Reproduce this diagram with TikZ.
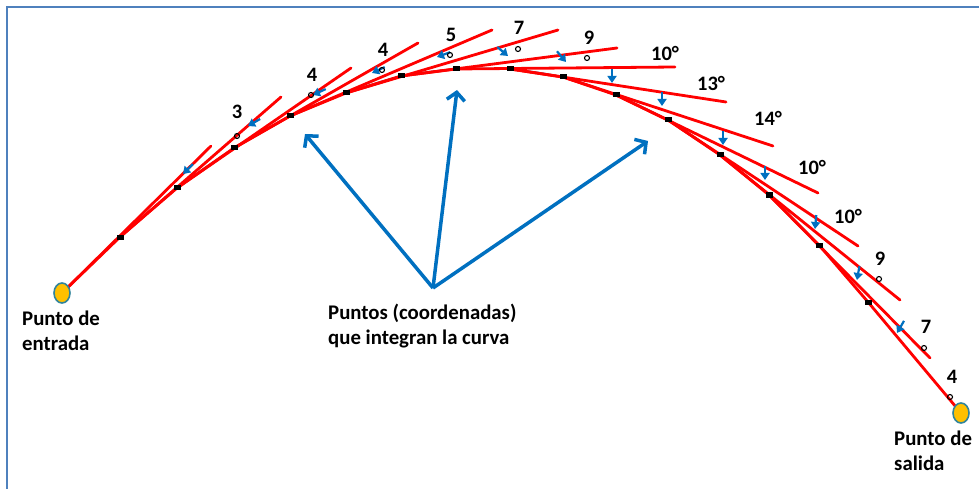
\documentclass[tikz,border=0pt]{standalone}
\usepackage{fontspec}
\setmainfont{Carlito}
\usetikzlibrary{arrows.meta,shapes.geometric}
\definecolor{cred}{RGB}{255,0,0}
\definecolor{cblue}{RGB}{0,112,192}
\definecolor{cframe}{RGB}{79,129,189}
\definecolor{cgold}{RGB}{255,192,0}
\definecolor{cteal}{RGB}{49,132,155}
\begin{document}
\begin{tikzpicture}[x=1pt,y=-1pt,
  redline/.style={cred,line width=2.8pt,line cap=round},
  sqmark/.style={rectangle,fill=black,draw=none,inner sep=0pt,minimum width=7pt,minimum height=5pt},
  degmark/.style={circle,draw=black,line width=1.1pt,inner sep=0pt,minimum size=5pt},
  lbl/.style={font=\bfseries\fontsize{20.5}{25}\selectfont,inner sep=0pt},
  txt/.style={font=\bfseries\fontsize{20.8}{25}\selectfont,inner sep=0pt,align=left,anchor=north west},
  dmark/.style={cblue,line width=2.2pt,-{Triangle[length=7pt,width=9pt]}},
  pointer/.style={cblue,line width=3.5pt,-{Straight Barb[length=8pt,width=18pt]}},
  endpt/.style={ellipse,fill=cgold,draw=cteal,line width=1.6pt,minimum width=16pt,minimum height=20pt,inner sep=0pt}]
\useasboundingbox (0,0) rectangle (979,489);
% frame
\draw[cframe,line width=2.5pt] (7,495) -- (7,7) -- (985,7);
% curve points
\coordinate (P0) at (62,293);
\coordinate (P1) at (120,237);
\coordinate (P2) at (177,188);
\coordinate (P3) at (234,148);
\coordinate (P4) at (290,116);
\coordinate (P5) at (346,93);
\coordinate (P6) at (401,76);
\coordinate (P7) at (456,69);
\coordinate (P8) at (510,69);
\coordinate (P9) at (563,77);
\coordinate (P10) at (616,95);
\coordinate (P11) at (668,120);
\coordinate (P12) at (720,155);
\coordinate (P13) at (769,195);
\coordinate (P14) at (819,245);
\coordinate (P15) at (868,302);
\coordinate (P16) at (961,413);
% tangent ends
\coordinate (E0) at (211,146);
\coordinate (E1) at (281,97);
\coordinate (E2) at (351,68);
\coordinate (E3) at (418,43);
\coordinate (E4) at (492,30);
\coordinate (E5) at (558,30);
\coordinate (E6) at (617,48);
\coordinate (E7) at (675,67);
\coordinate (E8) at (726,102);
\coordinate (E9) at (773,146);
\coordinate (E10) at (818,193);
\coordinate (E11) at (858,246);
\coordinate (E12) at (900,300);
\coordinate (E13) at (930,358);
% underlying curve
\draw[cblue!70,line width=1.2pt] plot[smooth] coordinates {(62,293) (120,237) (177,188) (234,148) (290,116) (346,93) (401,76) (456,69) (510,69) (563,77) (616,95) (668,120) (720,155) (769,195) (819,245) (868,302) (961,413)};
% tangent lines
\foreach \i in {0,...,13} { \draw[redline] (P\i) -- (E\i); }
% chords
\foreach \i [evaluate=\i as \j using int(\i+1)] in {0,...,15} { \draw[redline] (P\i) -- (P\j); }
% point markers
\foreach \i in {1,...,15} { \node[sqmark] (S\i) at (P\i) {}; }
% deflection marks
\foreach \k/\x/\y/\a in {1/183/174/135, 2/248/126/150, 3/313/95/155, 4/372/73/155, 5/437/57/160, 6/508/56/40, 7/566/62/50, 8/612/83/90, 9/662/106/90, 10/723/145/90, 11/765/180/90, 12/815/229/95, 13/857/280/100, 14/897/333/120}
  { \coordinate (D\k) at (\x,\y); \draw[dmark] ([shift={(\a+180:14)}]D\k) -- (D\k); }
% angle labels
\node[lbl] (L3) at (237,112) {3};   \node[degmark] (C3) at (237,136) {};
\node[lbl] (L4a) at (312,75) {4};   \node[degmark] (C4a) at (311,95) {};
\node[lbl] (L4b) at (383,50) {4};   \node[degmark] (C4b) at (382,70) {};
\node[lbl] (L5) at (451,35) {5};    \node[degmark] (C5) at (450,55) {};
\node[lbl] (L7a) at (519,28) {7};   \node[degmark] (C7a) at (518,49) {};
\node[lbl] (L9a) at (589,38) {9};   \node[degmark] (C9a) at (587,58) {};
\node[lbl] (L10a) at (665,53) {10°};
\node[lbl] (L13) at (711,83) {13°};
\node[lbl] (L14) at (768,118) {14°};
\node[lbl] (L10b) at (812,167) {10°};
\node[lbl] (L10c) at (848,216) {10°};
\node[lbl] (L9b) at (880,259) {9};  \node[degmark] (C9b) at (879,279) {};
\node[lbl] (L7b) at (926,327) {7};  \node[degmark] (C7b) at (924,348) {};
\node[lbl] (L4c) at (952,377) {4};  \node[degmark] (C4c) at (950,397) {};
% entry / exit
\node[endpt] (entry) at (P0) {};
\node[endpt] (exit) at (P16) {};
% texts
\node[txt] (tin) at (22,311) {Punto de\\entrada};
\node[txt] (tmid) at (328,304) {Puntos (coordenadas)\\que integran la curva};
\node[txt] (tout) at (894,431) {Punto de\\salida};
% pointers
\coordinate (src) at (433,288);
\coordinate (t1) at (305,134);
\coordinate (t2) at (457,90);
\coordinate (t3) at (648,141);
\draw[pointer] (src) -- (t1);
\draw[pointer] (src) -- (t2);
\draw[pointer] (src) -- (t3);
\end{tikzpicture}
\end{document}
